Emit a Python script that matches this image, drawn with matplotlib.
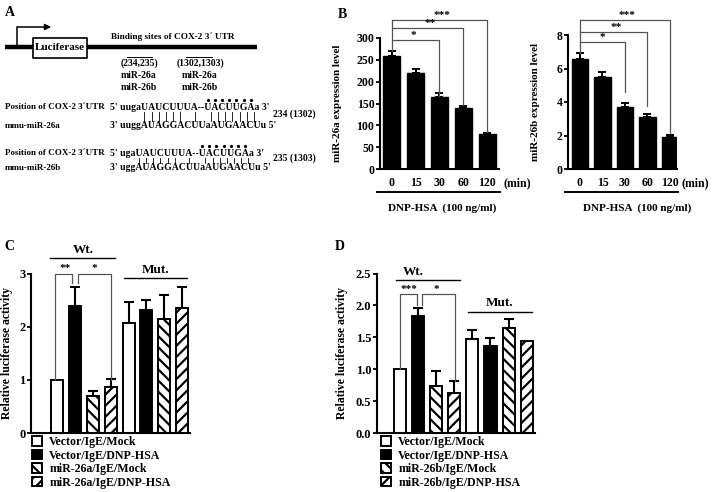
import matplotlib
matplotlib.use("Agg")
import matplotlib.pyplot as plt
from matplotlib.patches import Rectangle, FancyArrowPatch
from matplotlib.font_manager import FontProperties

plt.rcParams["font.family"] = "Liberation Serif"
plt.rcParams["font.weight"] = "bold"
plt.rcParams["axes.labelweight"] = "bold"
plt.rcParams["hatch.linewidth"] = 1.6
plt.rcParams["hatch.color"] = "black"

# ---- data -----------------------------------------------------------------
times = ["0", "15", "30", "60", "120"]
mir26a_level = [258, 219, 165, 139, 80]
mir26a_err = [13, 11, 9, 5, 3]
mir26b_level = [6.55, 5.5, 3.73, 3.13, 1.94]
mir26b_err = [0.35, 0.3, 0.22, 0.16, 0.1]

groups = ["Vector/IgE/Mock", "Vector/IgE/DNP-HSA",
          "miR-26a/IgE/Mock", "miR-26a/IgE/DNP-HSA"]
groups_b = ["Vector/IgE/Mock", "Vector/IgE/DNP-HSA",
            "miR-26b/IgE/Mock", "miR-26b/IgE/DNP-HSA"]
luc_26a = [1.0, 2.39, 0.70, 0.87, 2.06, 2.31, 2.15, 2.35]
luc_26a_err = [0, 0.36, 0.09, 0.14, 0.40, 0.20, 0.44, 0.40]
luc_26b = [1.0, 1.84, 0.73, 0.62, 1.47, 1.37, 1.65, 1.44]
luc_26b_err = [0, 0.12, 0.24, 0.20, 0.15, 0.12, 0.13, 0.0]

W, H = 713, 492
fig = plt.figure(figsize=(W / 100, H / 100), dpi=100)
fig.patch.set_facecolor("white")

# overlay in pixel coordinates for the diagram and free text
ov = fig.add_axes([0, 0, 1, 1])
ov.set_xlim(0, W)
ov.set_ylim(H, 0)
ov.axis("off")


def px_axes(x0, x1, ytop, ybot):
    return fig.add_axes([x0 / W, (H - ybot) / H, (x1 - x0) / W, (ybot - ytop) / H])


def style(ax, fs=8.5):
    for s in ("top", "right"):
        ax.spines[s].set_visible(False)
    for s in ("left", "bottom"):
        ax.spines[s].set_linewidth(1.5)
    ax.tick_params(axis="y", labelsize=fs, width=1.3, length=3, pad=1)
    ax.tick_params(axis="x", length=0)
    ax.set_facecolor("none")


GRAY = "#555555"


def bracket(ax, xa, xb, y, ya, yb, text, tx, fs=8):
    ax.plot([xa, xa, xb, xb], [ya, y, y, yb], color=GRAY, lw=0.9,
            clip_on=False, zorder=5)
    ax.text(tx, y, text, ha="center", va="bottom", fontsize=fs, clip_on=False)


# ---- panel labels ---------------------------------------------------------
for lab, x, y in [("A", 5, 12), ("B", 338, 15), ("C", 4, 247), ("D", 335, 247)]:
    ov.text(x, y, lab, fontsize=10, ha="left", va="center")

# ---- panel A diagram ------------------------------------------------------
ov.plot([5, 257], [47, 47], color="black", lw=3.2, solid_capstyle="butt")
ov.add_patch(Rectangle((33, 38), 54, 20, facecolor="white", edgecolor="black", lw=1.2, zorder=3))
ov.text(60, 48, "Luciferase", fontsize=8, ha="center", va="center", zorder=4)
ov.plot([17, 17, 45], [47, 27, 27], color="black", lw=1.1)
ov.add_patch(FancyArrowPatch((42, 27), (54, 27), arrowstyle="-|>", mutation_scale=9,
                             color="black", lw=1.1))
ov.text(173, 37, "Binding sites of COX-2 3\u00b4 UTR", fontsize=6.7, ha="center", va="center")
for cx, lab, (ol0, ol1) in [(139, "(234,235)", (127, 152)), (200, "(1302,1303)", (186, 212))]:
    ov.text(cx, 63, lab, fontsize=7, ha="center", va="center")
    ov.plot([ol0, ol1], [57, 57], color="black", lw=0.7)
    ov.text(cx, 75, "miR-26a", fontsize=7, ha="center", va="center")
    ov.text(cx, 87, "miR-26b", fontsize=7, ha="center", va="center")

seq_prop = FontProperties(family="Liberation Serif", weight="bold", size=7)
name_prop = FontProperties(family="Liberation Serif", weight="bold", size=6.5)
renderer = fig.canvas.get_renderer()


def tw(s):
    if not s:
        return 0.0
    w, _, _ = renderer.get_text_width_height_descent(s, seq_prop, ismath=False)
    return w


pairs = {("U", "A"), ("A", "U"), ("C", "G"), ("G", "C"), ("U", "G")}


def duplex(y_top, y_bot, top_pre, top_core, bot_pre, bot_core, pos, name):
    x0 = 110
    ov.text(5, y_top, "Position of COX-2 3\u00b4UTR", fontproperties=name_prop, ha="left", va="center")
    ov.text(5, y_bot, name, fontproperties=name_prop, ha="left", va="center")
    top = "5' " + top_pre + top_core + " 3'"
    bot = "3' " + bot_pre + bot_core + " 5'"
    ov.text(x0, y_top, top, fontproperties=seq_prop, ha="left", va="center")
    ov.text(x0, y_bot, bot, fontproperties=seq_prop, ha="left", va="center")
    t0 = "5' " + top_pre
    b0 = "3' " + bot_pre
    n = len(top_core)
    for i, (a, b) in enumerate(zip(top_core, bot_core)):
        xt = x0 + tw(t0 + top_core[:i]) + tw(a) / 2
        xb = x0 + tw(b0 + bot_core[:i]) + tw(b) / 2
        xm = (xt + xb) / 2
        if (a, b) in pairs and i != 6:
            ov.plot([xm, xm], [y_top + 5, y_bot - 5], color="black", lw=0.6)
        if n - 8 <= i <= n - 2:
            ov.plot([xt], [y_top - 7], marker="o", ms=1.3, color="black")
    ov.text(273, (y_top + y_bot) / 2 - 2, pos, fontproperties=seq_prop, ha="left", va="center")


duplex(107, 126, "uuga", "UAUCUUUA--UACUUGAa", "uugg", "AUAGGACUUaAUGAACUu",
       "234 (1302)", "mmu-miR-26a")
duplex(153, 168, "uga", "UAUCUUUA--UACUUGAa", "ugg", "AUAGGACUUaAUGAACUu",
       "235 (1303)", "mmu-miR-26b")


# ---- panel B --------------------------------------------------------------
def time_panel(x0, x1, ytop, xlim, values, errs, ylim, yticks, ylabel, ylab_x,
               sig, line_x, mid_x):
    ax = px_axes(x0, x1, ytop, 169)
    idx = list(range(len(times)))
    ax.bar(idx, values, width=0.72, color="black", edgecolor="black", zorder=2)
    ax.errorbar(idx, values, yerr=[[0] * len(errs), errs], fmt="none",
                ecolor="black", elinewidth=1.4, capsize=3, capthick=1.4, zorder=1)
    ax.set_xlim(*xlim)
    ax.set_ylim(*ylim)
    ax.set_yticks(yticks)
    ax.set_xticks(idx)
    ax.set_xticklabels(times, fontsize=8.5)
    ax.tick_params(axis="x", pad=6)
    style(ax)
    ax.set_ylabel(ylabel, fontsize=8)
    ax.yaxis.set_label_coords((ylab_x - x0) / (x1 - x0), 0.5)
    top0 = values[0] + errs[0]
    ax.plot([0, 0], [top0, sig[-1][1]], color=GRAY, lw=0.9, clip_on=False)
    for (j, y, low, star, tx) in sig:
        ax.plot([0, j, j], [y, y, low], color=GRAY, lw=0.9, clip_on=False)
        ax.text(tx, y, star, ha="center", va="bottom", fontsize=8, clip_on=False)
    ov.plot(line_x, [192, 192], color="black", lw=1.4)
    ov.text(line_x[1] + 3, 183, "(min)", fontsize=8.5, ha="left", va="center")
    ov.text(mid_x, 208, "DNP-HSA  (100 ng/ml)", fontsize=8, ha="center", va="center")
    return ax


time_panel(380, 499, 38, (-0.5, 4.5), mir26a_level, mir26a_err, (0, 300),
           range(0, 301, 50), "miR-26a expression level", 342,
           [(2, 296, 168, "*", 0.9), (3, 323, 146, "**", 1.6), (4, 342, 85, "***", 2.1)],
           [377, 500], 442)
time_panel(568, 677, 35, (-0.53, 4.31), mir26b_level, mir26b_err, (0, 8),
           range(0, 9, 2), "miR-26b expression level", 540,
           [(2, 7.6, 4.6, "*", 1.0), (3, 8.15, 3.77, "**", 1.6), (4, 8.9, 2.14, "***", 2.1)],
           [565, 678], 637)

# ---- panels C and D -------------------------------------------------------
faces = ["white", "black", "white", "white"]
hatches = [None, None, "\\\\\\", "///"]


def luc_panel(x0, x1, xlim, values, errs, ylim, yticks, fmt, ylab_x, labels, leg_x):
    ax = px_axes(x0, x1, 273.5, 433)
    handles = []
    for i, (v, e) in enumerate(zip(values, errs)):
        k = i % 4
        b = ax.bar(i, v, width=0.67, color=faces[k], edgecolor="black", lw=1.4,
                   hatch=hatches[k], zorder=2)
        if i < 4:
            handles.append(b)
        if e > 0:
            ax.errorbar(i, v, yerr=[[0], [e]], fmt="none", ecolor="black",
                        elinewidth=1.5, capsize=3.5, capthick=1.5, zorder=1)
    ax.set_xlim(*xlim)
    ax.set_ylim(*ylim)
    ax.set_yticks(yticks)
    ax.set_yticklabels([fmt.format(t) for t in yticks])
    ax.set_xticks([])
    style(ax, fs=9)
    ax.set_ylabel("Relative luciferase activity", fontsize=8.5)
    ax.yaxis.set_label_coords((ylab_x - x0) / (x1 - x0), 0.5)
    fig.legend(handles, labels, loc="upper left",
               bbox_to_anchor=(leg_x / W, (H - 436) / H), frameon=False,
               fontsize=8.6, handlelength=0.85, handleheight=0.85, handletextpad=0.6,
               labelspacing=0.13, borderpad=0, borderaxespad=0)
    return ax


axC = luc_panel(31, 190, (-1.45, 7.43), luc_26a, luc_26a_err, (0, 3), [0, 1, 2, 3],
                "{:.0f}", 13, groups, 32)
bracket(axC, -0.1, 0.85, 3.0, 1.0, 2.83, "**", 0.45)
bracket(axC, 1.15, 3.0, 3.0, 2.83, 1.0, "*", 2.1)
axC.plot([-0.4, 3.25], [3.3, 3.3], color="black", lw=1.0, clip_on=False)
axC.text(1.45, 3.33, "Wt.", ha="center", va="bottom", fontsize=9.5, clip_on=False)
axC.plot([3.74, 7.26], [2.92, 2.92], color="black", lw=1.0, clip_on=False)
axC.text(5.5, 2.95, "Mut.", ha="center", va="bottom", fontsize=9.5, clip_on=False)

axD = luc_panel(377, 535, (-1.27, 7.46), luc_26b, luc_26b_err, (0, 2.5),
                [0, 0.5, 1.0, 1.5, 2.0, 2.5], "{:.1f}", 348, groups_b, 381)
bracket(axD, 0.0, 0.95, 2.18, 1.0, 2.0, "***", 0.5)
bracket(axD, 1.2, 3.05, 2.18, 2.0, 0.82, "*", 2.0)
axD.plot([-0.2, 3.3], [2.395, 2.395], color="black", lw=1.0, clip_on=False)
axD.text(0.72, 2.43, "Wt.", ha="center", va="bottom", fontsize=9.5, clip_on=False)
axD.plot([3.75, 7.3], [1.9, 1.9], color="black", lw=1.0, clip_on=False)
axD.text(5.5, 1.94, "Mut.", ha="center", va="bottom", fontsize=9.5, clip_on=False)

fig.savefig("out.png", dpi=100, facecolor="white")
